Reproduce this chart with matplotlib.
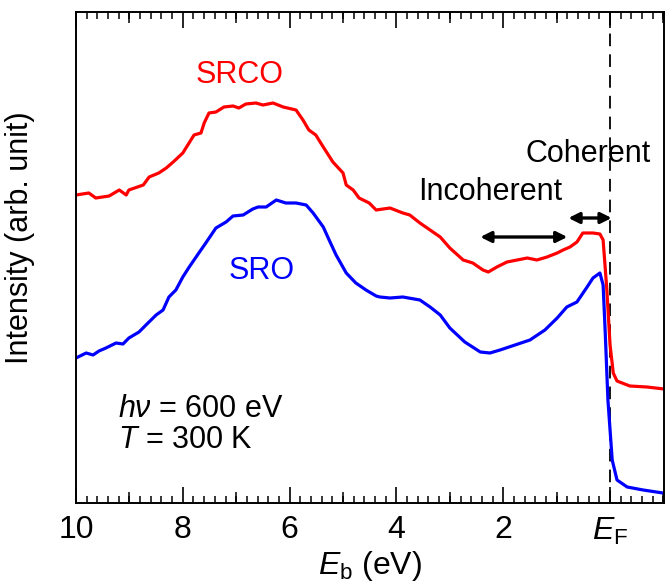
import matplotlib
matplotlib.use('Agg')
import matplotlib.pyplot as plt
from matplotlib.ticker import MultipleLocator

plt.rcParams['font.family'] = ['Liberation Sans', 'DejaVu Sans']
plt.rcParams['mathtext.fontset'] = 'custom'
plt.rcParams['mathtext.rm'] = 'Liberation Sans'
plt.rcParams['mathtext.it'] = 'Liberation Sans:italic'
plt.rcParams['mathtext.bf'] = 'Liberation Sans:bold'

# ---- data (binding energy in eV, intensity in arb. units) ----
srco_energy = [10.00, 9.76, 9.63, 9.38, 9.19, 9.06, 9.01, 8.74, 8.63, 8.45, 8.31, 8.18,
               8.00, 7.79, 7.66, 7.60, 7.51, 7.38, 7.23, 7.06, 6.95, 6.82, 6.63, 6.50,
               6.31, 6.12, 5.88, 5.75, 5.64, 5.51, 5.37, 5.19, 5.00, 4.94, 4.81, 4.70,
               4.51, 4.38, 4.12, 3.88, 3.75, 3.56, 3.37, 3.18, 3.00, 2.75, 2.57, 2.38,
               2.28, 2.12, 1.93, 1.74, 1.55, 1.37, 1.18, 0.99, 0.88, 0.75, 0.62, 0.51,
               0.37, 0.32, 0.19, 0.13, 0.06, 0.00, -0.06, -0.13, -0.37, -0.69, -1.01]
srco_intensity = [308, 310, 305, 307, 313, 308, 313, 318, 326, 330, 335, 341,
                  350, 368, 370, 380, 390, 391, 396, 397, 395, 399, 400, 398,
                  400, 396, 393, 383, 373, 368, 356, 341, 330, 318, 313, 305,
                  300, 293, 295, 290, 288, 280, 273, 266, 255, 243, 240, 233,
                  231, 236, 241, 243, 245, 243, 246, 250, 253, 256, 261, 270,
                  270, 270, 269, 263, 213, 158, 130, 122, 117, 116, 114]

sro_energy = [10.00, 9.81, 9.68, 9.57, 9.44, 9.25, 9.12, 9.01, 8.82, 8.69, 8.50, 8.37,
              8.26, 8.13, 8.00, 7.88, 7.70, 7.57, 7.38, 7.19, 7.06, 6.87, 6.69, 6.59,
              6.44, 6.25, 6.07, 5.88, 5.69, 5.56, 5.37, 5.26, 5.13, 4.94, 4.76, 4.57,
              4.38, 4.31, 4.12, 3.88, 3.56, 3.37, 3.18, 3.00, 2.72, 2.43, 2.25, 2.06,
              1.78, 1.50, 1.22, 0.99, 0.81, 0.62, 0.43, 0.32, 0.19, 0.13, 0.09, 0.04,
              -0.04, -0.13, -0.32, -0.62, -0.99]
sro_intensity = [145, 150, 148, 152, 155, 160, 159, 165, 171, 178, 188, 193,
                 206, 213, 226, 236, 250, 260, 275, 281, 287, 288, 294, 296,
                 296, 303, 300, 300, 298, 290, 276, 263, 248, 230, 220, 213,
                 207, 206, 205, 206, 203, 196, 188, 175, 161, 151, 150, 153,
                 158, 163, 173, 185, 196, 201, 216, 225, 230, 218, 170, 103,
                 43, 23, 16, 13, 10]

x_tick_values = [10, 8, 6, 4, 2, 0]
x_tick_labels = ['10', '8', '6', '4', '2', r'$E_\mathrm{F}$']
mid_tick_values = [9, 7, 5, 3, 1, -1]

fig = plt.figure(figsize=(6.71, 5.84), dpi=100)
ax = fig.add_axes([76 / 671, 81 / 584, 588 / 671, 491 / 584])

ax.plot(srco_energy, srco_intensity, color='#ff0000', lw=2.3, solid_joinstyle='round')
ax.plot(sro_energy, sro_intensity, color='#0000ff', lw=2.3, solid_joinstyle='round')
ax.axvline(0, color='black', ls=(0, (7, 4.5)), lw=1.3, zorder=1)

ax.set_xlim(10, -1.01)
ax.set_ylim(0, 491)

ax.set_xticks(x_tick_values)
ax.set_xticklabels(x_tick_labels, fontsize=23)
ax.xaxis.set_minor_locator(MultipleLocator(0.2))
ax.set_yticks([])
ax.tick_params(axis='x', which='major', direction='in', length=11.5, width=1.2,
               top=True, pad=9)
ax.tick_params(axis='x', which='minor', direction='in', length=5, width=1.1, top=True)

for loc in ('bottom', 'top'):
    sec = ax.secondary_xaxis(loc)
    sec.set_xticks(mid_tick_values)
    sec.tick_params(direction='in', length=7.8, width=1.1,
                    labelbottom=False, labeltop=False)
    sec.spines[loc].set_visible(False)

for s in ax.spines.values():
    s.set_linewidth(1.4)

ax.set_xlabel(r'$E_\mathrm{b}$ (eV)', fontsize=23, labelpad=2)
ax.set_ylabel('Intensity (arb. unit)', fontsize=22)
ax.yaxis.set_label_coords(-0.07, 0.54)

ax.text(6.93, 428, 'SRCO', color='#ff0000', fontsize=22, ha='center', va='center')
ax.text(6.52, 232, 'SRO', color='#0000ff', fontsize=22, ha='center', va='center')
ax.text(0.42, 349, 'Coherent', color='black', fontsize=22, ha='center', va='center')
ax.text(2.25, 311, 'Incoherent', color='black', fontsize=22, ha='center', va='center')
ax.text(9.21, 94, r'$h\nu$ = 600 eV', color='black', fontsize=22, ha='left', va='center')
ax.text(9.21, 63, r'$T$ = 300 K', color='black', fontsize=22, ha='left', va='center')

arrow_kw = dict(arrowstyle='<|-|>', color='black', lw=2.4, mutation_scale=16,
                shrinkA=0, shrinkB=0)
ax.annotate('', xy=(0.80, 266), xytext=(2.43, 266), arrowprops=arrow_kw)
ax.annotate('', xy=(-0.03, 285), xytext=(0.78, 285), arrowprops=arrow_kw)

fig.savefig('out.png', dpi=100)
